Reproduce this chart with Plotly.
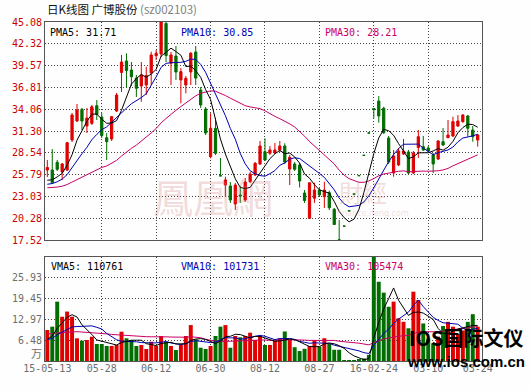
import plotly.graph_objects as go
import pandas as pd

# ---------------- data ----------------
tick_index = [0, 11, 22, 33, 44, 55, 66, 77, 87]
tick_labels = ["15-05-13", "05-28", "06-12", "06-30", "08-12", "08-27", "16-02-24", "03-10", "03-24"]
grid_index = [11, 22, 33, 44, 55, 66, 77]

open_price = [26.37, 26.37, 27.34, 26.12, 26.37, 30.16, 32.56, 34.04, 31.93, 32.27,
              34.50, 33.07, 30.45, 30.29, 33.83, 38.70, 40.15, 39.01, 37.99, 36.99,
              37.12, 38.63, 40.82, 41.03, 44.90, 39.86, 40.78, 37.75, 37.12, 38.76,
              41.29, 36.48, 34.08, 28.05, 31.64, 25.64, 24.47, 24.35, 22.07, 23.21,
              22.58, 24.89, 25.74, 27.13, 28.68, 28.48, 28.52, 28.90, 29.40, 26.50,
              27.13, 27.00, 23.46, 20.26, 22.79, 23.84, 22.99, 23.50, 21.40, 17.53,
              19.28, 21.21, 23.33, 25.66, 28.23, 31.05, 34.14, 35.09, 34.17, 30.41,
              25.99, 27.00, 28.39, 28.65, 25.99, 29.21, 29.31, 29.15, 28.27, 27.76,
              29.95, 30.45, 30.67, 31.93, 32.48, 33.20, 31.43, 30.16]
high_price = [27.63, 29.02, 27.63, 27.25, 29.91, 33.58, 34.71, 34.21, 34.21, 34.59,
              35.22, 33.58, 31.05, 33.20, 36.10, 40.91, 41.10, 40.02, 38.38, 40.02,
              39.43, 41.32, 41.54, 45.08, 45.08, 41.29, 42.05, 39.26, 38.25, 41.29,
              42.05, 36.86, 34.33, 33.54, 32.94, 27.89, 25.52, 24.85, 24.73, 24.35,
              25.36, 26.12, 27.38, 30.04, 30.38, 29.40, 29.78, 30.04, 29.74, 28.27,
              27.38, 27.25, 23.84, 24.76, 24.76, 24.09, 24.89, 23.75, 21.57, 20.05,
              19.28, 21.21, 23.33, 25.66, 28.23, 31.05, 34.14, 35.72, 34.37, 30.67,
              28.90, 29.15, 30.29, 28.90, 28.77, 31.43, 30.67, 29.40, 28.52, 30.16,
              31.68, 32.69, 33.11, 33.32, 33.45, 33.32, 31.93, 30.92]
low_price = [25.48, 24.66, 26.24, 25.11, 26.24, 29.91, 32.44, 31.43, 31.05, 32.06,
             32.69, 30.41, 27.63, 30.04, 33.70, 36.23, 36.74, 36.99, 35.60, 35.00,
             35.85, 37.12, 40.28, 40.65, 40.02, 37.12, 37.75, 34.80, 36.07, 37.12,
             37.12, 34.21, 30.79, 27.85, 28.27, 25.63, 22.99, 22.20, 21.31, 22.20,
             22.32, 24.73, 25.61, 27.00, 27.51, 28.27, 28.39, 28.65, 27.13, 24.47,
             26.24, 24.16, 22.20, 20.26, 22.20, 22.96, 21.57, 21.31, 19.42, 17.52,
             19.27, 21.20, 23.32, 25.65, 28.22, 31.04, 32.91, 32.35, 30.92, 27.13,
             25.52, 26.88, 28.27, 25.86, 25.86, 27.89, 28.77, 28.65, 25.99, 27.63,
             29.40, 30.41, 30.54, 31.81, 32.35, 30.58, 29.95, 29.32]
close_price = [26.69, 24.76, 26.46, 27.13, 29.82, 33.32, 33.95, 32.56, 32.94, 34.37,
               33.39, 30.73, 29.95, 33.11, 35.85, 40.02, 38.95, 38.16, 36.70, 38.38,
               38.32, 40.91, 41.12, 45.08, 40.84, 40.91, 38.76, 38.80, 37.96, 41.12,
               37.99, 34.59, 31.05, 31.64, 28.48, 25.63, 25.11, 22.58, 24.47, 23.08,
               24.85, 25.86, 27.22, 29.40, 27.63, 28.90, 28.90, 29.40, 27.38, 27.97,
               26.46, 24.98, 22.51, 24.76, 23.84, 23.21, 23.84, 21.60, 19.48, 17.52,
               19.27, 21.20, 23.32, 25.65, 28.22, 31.04, 34.00, 33.20, 31.08, 27.38,
               28.14, 28.77, 28.77, 25.99, 28.52, 30.58, 28.90, 28.77, 27.13, 30.04,
               29.53, 30.79, 32.48, 32.56, 33.32, 31.64, 30.58, 30.79]
# volume in 万 (10,000 shares)
volume_wan = [9.66, 10.7, 18.5, 13.8, 15.4, 13.8, 7.07, 6.33, 6.54, 7.57,
              5.3, 5.3, 4.67, 4.67, 4.99, 9.13, 7.07, 6.54, 4.67, 4.99,
              3.74, 6.01, 4.67, 7.79, 6.01, 4.67, 3.43, 4.99, 7.79, 11.2,
              6.76, 4.14, 3.74, 4.67, 7.79, 10.7, 11.2, 4.14, 7.79, 7.38,
              7.79, 8.82, 6.54, 7.79, 4.99, 5.0, 6.4, 7.1, 9.2, 6.6,
              4.3, 3.1, 3.8, 4.7, 6.4, 4.5, 7.1, 5.3, 3.5, 3.5,
              0.3, 0.3, 0.3, 0.35, 0.8, 1.9, 32.41, 24.7, 21.3, 16.9,
              18.5, 13.3, 12.2, 10.2, 21.6, 19.0, 11.7, 7.0, 5.5, 7.6,
              10.9, 12.2, 10.7, 8.4, 9.5, 12.2, 14.6, 10.7]

prior_close = [24.6, 24.2, 23.8, 23.5, 23.9, 24.3, 24.0, 23.6, 23.2, 23.5,
               23.9, 24.4, 24.1, 23.7, 23.4, 23.8, 24.2, 24.5, 24.0, 23.6,
               23.9, 24.2, 23.8, 24.1, 24.3, 24.5, 24.6, 24.9, 24.7]
prior_volume = [10.5, 9.8, 11.2, 9.4, 8.7, 10.1, 9.5, 8.8, 9.9, 10.6,
                9.2, 8.4, 9.7, 8.9, 9.3, 10.2, 8.6, 9.1, 8.2, 7.9,
                6.8, 7.2, 6.1, 5.9, 6.6, 5.8, 6.4, 5.7, 6.4]

price_ticks = [17.52, 20.28, 23.03, 25.79, 28.54, 31.30, 34.06, 36.81, 39.57, 42.32, 45.08]
price_tick_text = ["17.52", "20.28", "23.03", "25.79", "28.54", "31.30", "34.06",
                   "36.81", "39.57", "42.32", "45.08"]
volume_ticks = [6.48, 12.97, 19.45, 25.93]
volume_tick_text = ["6.48", "12.97", "19.45", "25.93"]
volume_top = 32.41

pma_labels = ["PMA5: 31.71", "PMA10: 30.85", "PMA30: 28.21"]
vma_labels = ["VMA5: 110761", "VMA10: 101731", "VMA30: 105474"]

# ---------------- styling ----------------
RED = "#e00000"
GREEN = "#006e00"
BLUE = "#0000b4"
MAGENTA = "#cc0066"
GRID = "#444444"
FRAME = "#555555"
LABEL_GRAY = "#6e6e6e"
MONO = "DejaVu Sans Mono"
WM = "rgba(205,120,120,0.26)"
W, H = 530, 391
L, R, T, B = 43, 482, 22, 361


def px_x(px):
    return (px - L) / (R - L)


def px_y(py):
    return (B - py) / (B - T)


def moving_average(prior, values, n):
    s = pd.Series(prior + values).rolling(n).mean()
    return s.iloc[len(prior):].tolist()


idx = list(range(len(close_price)))
pma5 = moving_average(prior_close, close_price, 5)
pma10 = moving_average(prior_close, close_price, 10)
pma30 = moving_average(prior_close, close_price, 30)
vma5 = moving_average(prior_volume, volume_wan, 5)
vma10 = moving_average(prior_volume, volume_wan, 10)
vma30 = moving_average(prior_volume, volume_wan, 30)
vol_colors = [RED if c >= o else GREEN for o, c in zip(open_price, close_price)]

fig = go.Figure()

# volume panel
fig.add_trace(go.Bar(x=idx, y=volume_wan, marker=dict(color=vol_colors, line=dict(width=0)),
                     xaxis="x2", yaxis="y2", hoverinfo="skip"))
for ser, col in ((vma30, MAGENTA), (vma10, BLUE), (vma5, "#000000")):
    fig.add_trace(go.Scatter(x=idx, y=ser, mode="lines", line=dict(color=col, width=1),
                             xaxis="x3", yaxis="y2", hoverinfo="skip"))

# price panel
fig.add_trace(go.Candlestick(
    x=idx, open=open_price, high=high_price, low=low_price, close=close_price,
    increasing=dict(line=dict(color=RED, width=1), fillcolor=RED),
    decreasing=dict(line=dict(color=GREEN, width=1), fillcolor=GREEN),
    whiskerwidth=0, xaxis="x", yaxis="y", hoverinfo="skip"))
for ser, col in ((pma30, MAGENTA), (pma10, BLUE), (pma5, "#000000")):
    fig.add_trace(go.Scatter(x=idx, y=ser, mode="lines", line=dict(color=col, width=1),
                             xaxis="x", yaxis="y", hoverinfo="skip"))

x_range = [-0.47, 87.87]
price_dom = [px_y(240), 1.0]
vol_dom = [0.0, px_y(257)]

common_x = dict(range=x_range, zeroline=False, showline=True, mirror=True,
                linecolor=FRAME, linewidth=1, ticks="", fixedrange=True)


def note(text, xpx, ypx, font, xanchor="center"):
    return dict(x=px_x(xpx), y=px_y(ypx), xref="paper", yref="paper",
                xanchor=xanchor, yanchor="middle", showarrow=False, text=text, font=font)


annotations = []
# title
annotations.append(note("日K线图 广博股份 <span style='color:#808080'>(sz002103)</span>", 43, 9,
                        dict(family="Noto Sans CJK SC", size=11.5, color="#111111"), "left"))
# MA legends
for txt, col, xpos in zip(pma_labels, ["#000000", BLUE, MAGENTA], [46, 178, 322]):
    annotations.append(note(txt, xpos, 32.5, dict(family=MONO, size=10, color=col), "left"))
for txt, col, xpos in zip(vma_labels, ["#000000", BLUE, MAGENTA], [47, 178, 322]):
    annotations.append(note(txt, xpos, 266, dict(family=MONO, size=10, color=col), "left"))
# unit label
annotations.append(note("万", 41.5, 353,
                        dict(family="Noto Sans CJK SC", size=11, color=LABEL_GRAY), "right"))
# faint ifeng watermark
annotations.append(note("鳳凰網", 212, 196, dict(family="Noto Sans CJK TC", size=40, color=WM)))
annotations.append(note("財經", 362, 191, dict(family="Noto Sans CJK TC", size=24, color=WM)))
annotations.append(note("finance.ifeng.com", 372, 213, dict(family="DejaVu Sans", size=8, color=WM)))
# IOS watermark
annotations.append(note("<b>IOS国际文仪</b>", 466, 337,
                        dict(family="Noto Sans CJK SC", size=20, color="#000000")))
annotations.append(note("<b>www.ios.com.cn</b>", 466, 361.5,
                        dict(family="Liberation Sans", size=15, color="#000000")))

fig.update_layout(
    width=W, height=H,
    margin=dict(l=L, r=W - R, t=T, b=H - B, pad=0),
    paper_bgcolor="#fdfefd", plot_bgcolor="#fdfefd",
    showlegend=False, bargap=0.2, boxgap=0.35,
    xaxis=dict(**common_x, domain=[0, 1], anchor="y", tickvals=grid_index,
               showticklabels=False, showgrid=True, gridcolor=GRID, gridwidth=1,
               griddash="1px,2px", rangeslider=dict(visible=False)),
    yaxis=dict(domain=price_dom, anchor="x", range=[price_ticks[0], price_ticks[-1]],
               tickvals=price_ticks, ticktext=price_tick_text, showgrid=True,
               gridcolor=GRID, gridwidth=1, griddash="1px,2px", zeroline=False,
               showline=True, mirror=True, linecolor=FRAME, linewidth=1, ticks="",
               tickfont=dict(family=MONO, size=10, color="#cc0000"), fixedrange=True),
    xaxis2=dict(**common_x, domain=[0, 1], anchor="y2", tickvals=grid_index,
                showticklabels=False, showgrid=True, gridcolor=GRID, gridwidth=1,
                griddash="1px,2px"),
    xaxis3=dict(range=x_range, overlaying="x2", anchor="y2", side="bottom",
                tickvals=tick_index, ticktext=tick_labels, showgrid=False,
                zeroline=False, showline=False, ticks="",
                tickfont=dict(family=MONO, size=10, color=LABEL_GRAY), fixedrange=True),
    yaxis2=dict(domain=vol_dom, anchor="x2", range=[0, volume_top],
                tickvals=volume_ticks, ticktext=volume_tick_text, showgrid=True,
                gridcolor=GRID, gridwidth=1, griddash="1px,2px", zeroline=False,
                showline=True, mirror=True, linecolor=FRAME, linewidth=1, ticks="",
                tickfont=dict(family=MONO, size=10, color=LABEL_GRAY), fixedrange=True),
    annotations=annotations,
)

fig.write_html("out.html")
